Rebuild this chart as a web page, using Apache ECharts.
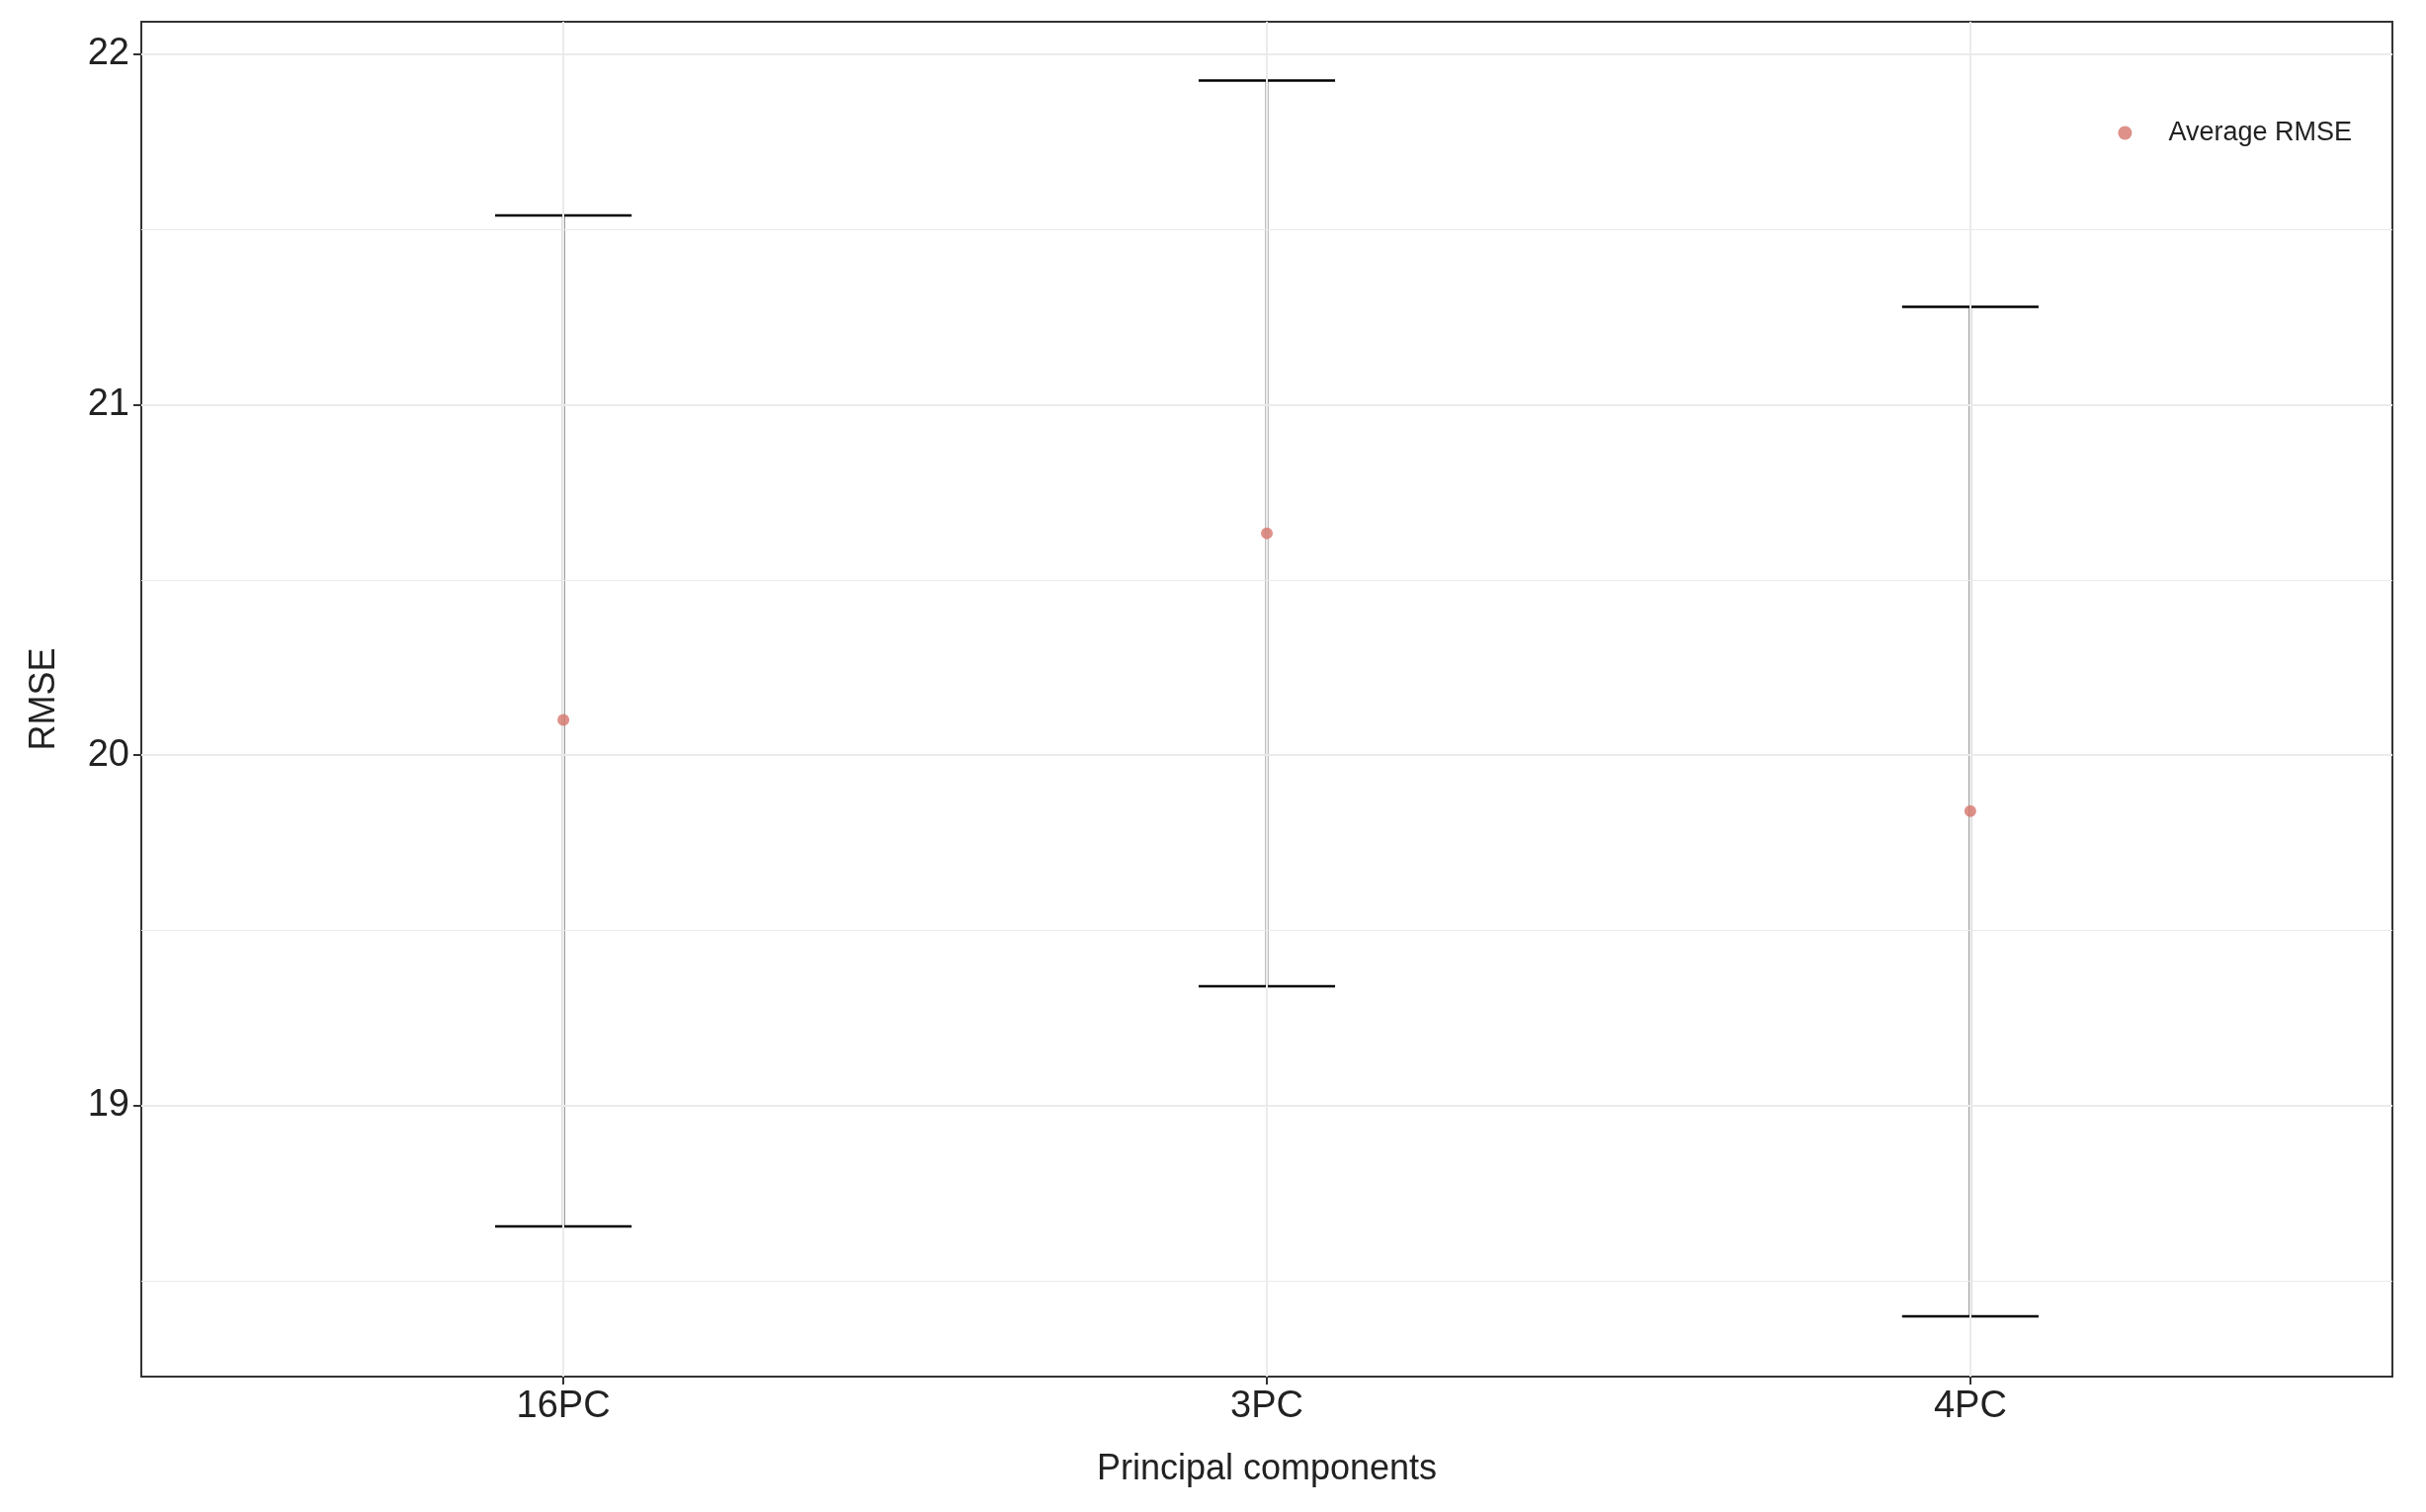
<!DOCTYPE html>
<html>
<head>
<meta charset="utf-8">
<script src="https://cdn.jsdelivr.net/npm/echarts@6/dist/echarts.min.js"></script>
<style>html,body{margin:0;padding:0;background:#fff}#chart{width:2455px;height:1530px}</style>
</head>
<body>
<div id="chart"></div>
<script>
var categories = ['16PC', '3PC', '4PC'];
var meanRmse = [20.10, 20.633, 19.84];
var lowerRmse = [18.655, 19.34, 18.398];
var upperRmse = [21.54, 21.925, 21.279];
var yMajor = [19, 20, 21, 22];
var yMinor = [18.5, 19.5, 20.5, 21.5];

var chart = echarts.init(document.getElementById('chart'));
var xPos = categories.map(function (c, i) { return i + 1; });
var gridLines = [];
xPos.forEach(function (x) { gridLines.push({ xAxis: x, lineStyle: { color: '#ebebeb', width: 2, type: 'solid' } }); });
yMajor.forEach(function (y) { gridLines.push({ yAxis: y, lineStyle: { color: '#ebebeb', width: 2, type: 'solid' } }); });
yMinor.forEach(function (y) { gridLines.push({ yAxis: y, lineStyle: { color: '#ebebeb', width: 1.2, type: 'solid' } }); });

var option = {
    animation: false,
    grid: { left: 143, right: 34, top: 22, bottom: 137, show: true, borderColor: '#333', borderWidth: 2 },
    legend: {
        data: ['Average RMSE'], right: 70, top: 116, icon: 'circle', itemWidth: 14, itemHeight: 14,
        textStyle: { fontSize: 27, color: '#222', fontFamily: 'Liberation Sans', padding: [0, 0, 0, 32] }
    },
    xAxis: {
        type: 'value', min: 0.4, max: 3.6,
        name: 'Principal components', nameLocation: 'middle', nameGap: 76,
        nameTextStyle: { fontSize: 36, color: '#222', fontFamily: 'Liberation Sans' },
        axisLine: { show: false },
        axisTick: { show: true, customValues: xPos, length: 8, lineStyle: { color: '#333', width: 2 } },
        axisLabel: {
            customValues: xPos, fontSize: 38, color: '#222', fontFamily: 'Liberation Sans', margin: 12,
            formatter: function (v) { return categories[Math.round(v) - 1] || ''; }
        },
        splitLine: { show: false }
    },
    yAxis: {
        type: 'value', min: 18.226, max: 22.093,
        name: 'RMSE', nameLocation: 'middle', nameGap: 80,
        nameTextStyle: { fontSize: 36, color: '#222', fontFamily: 'Liberation Sans' },
        axisLine: { show: false },
        axisTick: { show: true, customValues: yMajor, length: 8, lineStyle: { color: '#333', width: 2 } },
        axisLabel: { customValues: yMajor, fontSize: 38, color: '#222', fontFamily: 'Liberation Sans', margin: 12 },
        splitLine: { show: false }
    },
    series: [
        {
            type: 'line', data: [], silent: true, z: 0,
            markLine: { silent: true, symbol: 'none', label: { show: false }, data: gridLines, animation: false }
        },
        {
            type: 'custom', name: 'range', z: 3,
            data: xPos.map(function (x, i) { return [x, lowerRmse[i], upperRmse[i]]; }),
            renderItem: function (params, api) {
                var x = api.value(0);
                var lo = api.coord([x, api.value(1)]);
                var hi = api.coord([x, api.value(2)]);
                var hw = api.size([0.097, 0])[0];
                var st = { stroke: '#000', lineWidth: 2.5 };
                return {
                    type: 'group', children: [
                        { type: 'line', shape: { x1: lo[0], y1: lo[1], x2: hi[0], y2: hi[1] }, style: st },
                        { type: 'line', shape: { x1: lo[0] - hw, y1: lo[1], x2: lo[0] + hw, y2: lo[1] }, style: st },
                        { type: 'line', shape: { x1: hi[0] - hw, y1: hi[1], x2: hi[0] + hw, y2: hi[1] }, style: st }
                    ]
                };
            }
        },
        {
            type: 'scatter', name: 'Average RMSE', z: 5, symbolSize: 12,
            itemStyle: { color: '#d4756b' },
            data: xPos.map(function (x, i) { return [x, meanRmse[i]]; })
        }
    ]
};
chart.setOption(option);
</script>
</body>
</html>
